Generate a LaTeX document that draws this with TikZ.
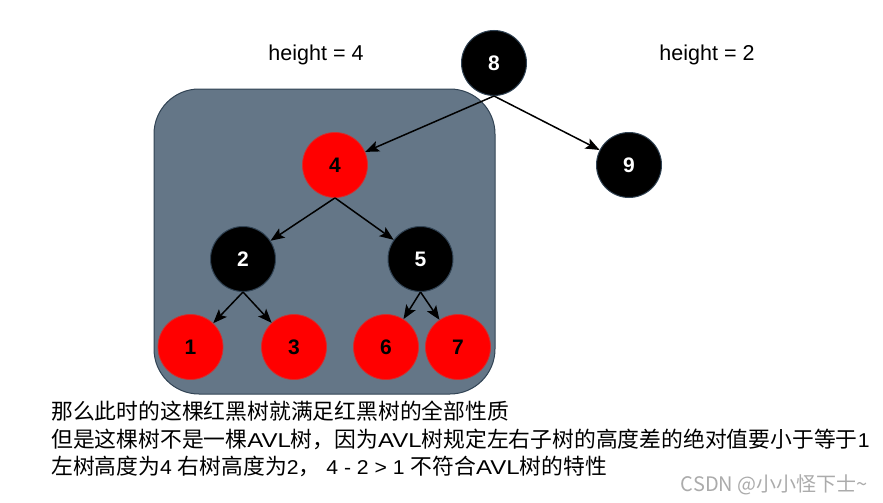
\documentclass[tikz,border=0pt]{standalone}
\usepackage{fontspec}
\setmainfont{Liberation Sans}
\newfontfamily\cjk{Noto Sans CJK SC}
\newfontfamily\latw[FakeStretch=1.2]{Liberation Sans}
\newfontfamily\latd[FakeStretch=1.06]{Liberation Sans}
\usetikzlibrary{arrows.meta}
\definecolor{slate}{HTML}{647687}
\definecolor{slateline}{HTML}{314354}
\definecolor{redline}{HTML}{D03030}
\newcommand{\lat}[1]{{\latw\fontsize{20}{26}\selectfont #1}}
\newcommand{\dig}[1]{{\latd\fontsize{20}{26}\selectfont #1}}
\tikzset{
  blk/.style={circle, minimum size=65pt, inner sep=0pt, fill=black, draw=slateline, line width=1pt, text=white, font=\fontsize{21}{24}\selectfont\bfseries},
  rd/.style={circle, minimum size=65pt, inner sep=0pt, fill=red, draw=redline, line width=0.8pt, text=black, font=\fontsize{21}{24}\selectfont\bfseries},
  edge/.style={-{Stealth[length=14pt,width=11pt,inset=3pt]}, line width=1.5pt},
  lbl/.style={font=\fontsize{21.5}{24}\selectfont, inner sep=0pt},
  ctext/.style={font=\cjk\fontsize{21.8}{26}\selectfont, inner sep=0pt, anchor=west},
}
\begin{document}
\begin{tikzpicture}[x=1pt,y=-1pt]
\useasboundingbox (0,0) rectangle (883,503);
\node[draw=slateline, fill=slate, line width=1pt, rounded corners=45pt, minimum width=341pt, minimum height=305pt, inner sep=0pt] (box) at (324.5,241.5) {};
\node[lbl] (h4) at (316,55) {height = 4};
\node[lbl] (h2) at (707,55) {height = 2};
\node[blk] (n8) at (494,63) {8};
\node[blk] (n9) at (629,165) {9};
\node[rd] (n4) at (335,165) {4};
\node[blk] (n2) at (243,259) {2};
\node[blk] (n5) at (420.5,259) {5};
\node[rd] (n1) at (190.5,347) {1};
\node[rd] (n3) at (294,347) {3};
\node[rd] (n6) at (386,347) {6};
\node[rd] (n7) at (458,347) {7};
\draw[edge] (n8.south) -- (n4);
\draw[edge] (n8.south) -- (n9);
\draw[edge] (n4.south) -- (n2);
\draw[edge] (n4.south) -- (n5);
\draw[edge] (n2.south) -- (n1);
\draw[edge] (n2.south) -- (n3);
\draw[edge] (n5.south) -- (n6);
\draw[edge] (n5.south) -- (n7);
\node[ctext] (t1) at (51,411) {那么此时的这棵红黑树就满足红黑树的全部性质};
\node[ctext] (t2) at (51,439) {但是这棵树不是一棵\lat{AVL}树，因为\lat{AVL}树规定左右子树的高度差的绝对值要小于等于\dig{1}};
\node[ctext] (t3) at (51,466) {左树高度为\dig{4 }右树高度为\dig{2}，\dig{ 4 - 2 > 1 }不符合\lat{AVL}树的特性};
\node[font=\cjk\fontsize{20}{22}\selectfont, text=black!33, anchor=east, inner sep=0pt] (wm) at (868,485) {CSDN @小小怪下士\textasciitilde};
\end{tikzpicture}
\end{document}
